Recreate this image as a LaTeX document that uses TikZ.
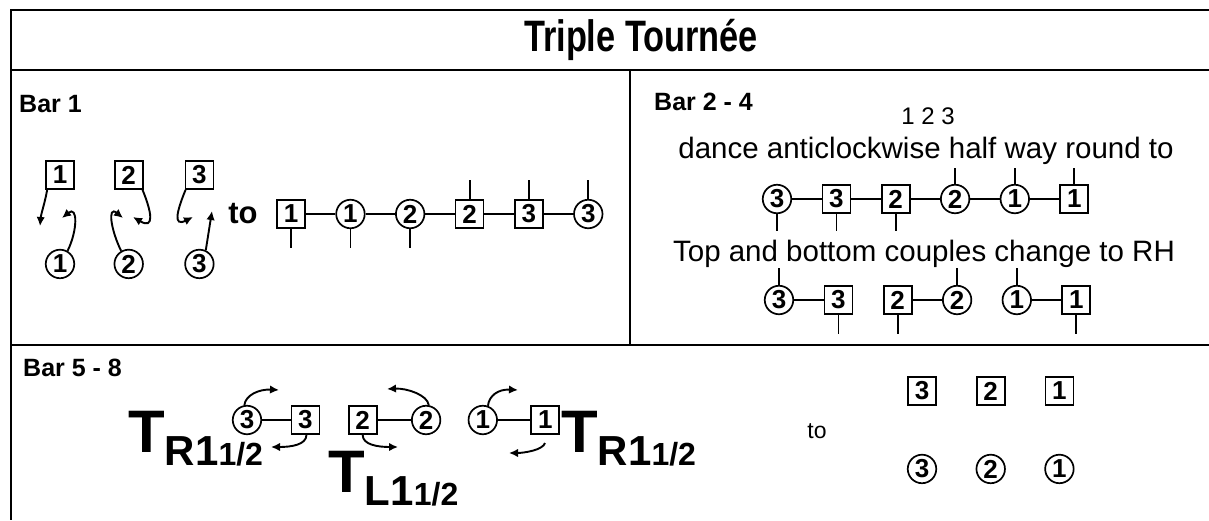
\documentclass[tikz,border=0pt]{standalone}
\usepackage{fontspec}
\setmainfont{Liberation Sans}
\newfontfamily\narrowfont[FakeStretch=0.78]{Liberation Sans}
\usetikzlibrary{arrows.meta,positioning}

\begin{document}
\begin{tikzpicture}
[x=1pt, y=-1pt, node distance=29.5pt,
% STYLES
rule/.style={line width=2.6pt},
divider/.style={line width=1.6pt},
bar/.style={anchor=west, inner sep=0pt, font=\bfseries\fontsize{25}{25}\selectfont},
words/.style={anchor=base, inner sep=0pt, font=\fontsize{29.5}{29.5}\selectfont},
man/.style={rectangle, draw, line width=1.7pt, minimum size=28pt, inner sep=0pt, font=\bfseries\fontsize{26}{26}\selectfont},
lady/.style={circle, draw, line width=1.7pt, minimum size=28.5pt, inner sep=0pt, font=\bfseries\fontsize{26}{26}\selectfont},
hand/.style={line width=1.9pt},
turn/.style={line width=1.9pt, -{Latex[length=9pt,width=8.5pt]}},
bigt/.style={anchor=base west, inner sep=0pt, font=\bfseries\fontsize{60}{60}\selectfont}]

\useasboundingbox (0,0) rectangle (1209,520);

% frame
\draw[rule] (1209,10) -- (11,10) -- (11,520);
\draw[rule] (11,70) -- (1209,70);
\draw[rule] (11,345) -- (1209,345);
\draw[divider] (630,70) -- (630,345);

\node[font=\narrowfont\bfseries\fontsize{44}{44}\selectfont] (title) at (641,40) {Triple Tournée};

% Bar 1
\node[bar] (bar1) at (19,104) {Bar 1};
\node[man] (bm1) at (60,175) {1};
\node[man, right=39pt of bm1] (bm2) {2};
\node[man, right=41pt of bm2] (bm3) {3};
\node[lady, below=59pt of bm1] (bw1) {1};
\node[lady, below=59pt of bm2] (bw2) {2};
\node[lady, below=59pt of bm3] (bw3) {3};

\coordinate (bt1) at (40,226);
\coordinate (bt2) at (62,218);
\coordinate (bt3) at (123,218);
\coordinate (bt4) at (133,217);
\coordinate (bt5) at (193,217);
\coordinate (bt6) at (212,211);

\draw[turn] ([xshift=2pt]bm1.south west) .. controls +(-2,12) and +(1,-12) .. (bt1);
\draw[turn] (bw1.60) .. controls +(10,-20) and +(16,-13) .. (bt2);
\draw[turn] (bw2.120) .. controls +(-10,-20) and +(-16,-13) .. (bt3);
\draw[turn] ([xshift=-1pt]bm2.south east) .. controls +(9,22) and +(22,13) .. (bt4);
\draw[turn] ([xshift=1pt]bm3.south west) .. controls +(-9,22) and +(-20,10) .. (bt5);
\draw[turn] (bw3.65) -- (bt6);

\node[font=\bfseries\fontsize{31}{31}\selectfont] (to1) at (243,214) {to};

\node[man] (am1) at (291,214) {1};
\node[lady, right=of am1] (aw1) {1};
\node[lady, right=of aw1] (aw2) {2};
\node[man, right=of aw2] (am2) {2};
\node[man, right=of am2] (am3) {3};
\node[lady, right=of am3] (aw3) {3};

\draw[hand] (am1) -- (aw1) -- (aw2) -- (am2) -- (am3) -- (aw3);
\foreach \n in {am1,aw1,aw2} \draw[hand] (\n.south) -- ++(0,19);
\foreach \n in {am2,am3,aw3} \draw[hand] (\n.north) -- ++(0,-19);

% Bar 2 - 4
\node[bar] (bar2) at (654,102) {Bar 2 - 4};
\node[anchor=base, inner sep=0pt, font=\fontsize{24}{24}\selectfont] (order) at (928,124) {1 2 3};
\node[words] (dance) at (926,158) {dance anticlockwise half way round to};

\node[lady] (uw3) at (777,199) {3};
\node[man, right=of uw3] (um3) {3};
\node[man, right=of um3] (um2) {2};
\node[lady, right=of um2] (uw2) {2};
\node[lady, right=of uw2] (uw1) {1};
\node[man, right=of uw1] (um1) {1};

\draw[hand] (uw3) -- (um3) -- (um2) -- (uw2) -- (uw1) -- (um1);
\foreach \n in {uw3,um3,um2} \draw[hand] (\n.south) -- ++(0,17);
\foreach \n in {uw2,uw1,um1} \draw[hand] (\n.north) -- ++(0,-16);

\node[words] (rh) at (924,261) {Top and bottom couples change to RH};

\node[lady] (lw3) at (779,300) {3};
\node[man, right=of lw3] (lm3) {3};
\node[man, right=of lm3] (lm2) {2};
\node[lady, right=of lm2] (lw2) {2};
\node[lady, right=of lw2] (lw1) {1};
\node[man, right=of lw1] (lm1) {1};

\draw[hand] (lw3) -- (lm3) (lm2) -- (lw2) (lw1) -- (lm1);
\foreach \n in {lw3,lw2,lw1} \draw[hand] (\n.north) -- ++(0,-17);
\foreach \n in {lm3,lm2,lm1} \draw[hand] (\n.south) -- ++(0,19);

%%%%%%%%%%%%%%%%

% Bar 5 - 8
\node[bar] (bar5) at (23,368) {Bar 5 - 8};

\node[lady] (cw3) at (247,420) {3};
\node[man, right=28.5pt of cw3] (cm3) {3};
\node[man, right=27.5pt of cm3] (cm2) {2};
\node[lady, right=33.5pt of cm2] (cw2) {2};
\node[lady, right=26.5pt of cw2] (cw1) {1};
\node[man, right=32.5pt of cw1] (cm1) {1};

\draw[hand] (cw3) -- (cm3) (cm2) -- (cw2) (cw1) -- (cm1);

\coordinate (ct3) at (279,390);
\coordinate (cb3) at (271,447);
\coordinate (cb2) at (398,447);
\coordinate (ct2) at (387,389);
\coordinate (ct1) at (518,390);
\coordinate (cs1) at (545,443);
\coordinate (cb1) at (509,453);

\draw[turn] (cw3.100) .. controls +(1,-10) and +(-20,-1) .. (ct3);
\draw[turn] ([xshift=1pt]cm3.south) .. controls +(0,10) and +(20,0) .. (cb3);
\draw[turn] (cm2.south) .. controls +(0,10) and +(-20,0) .. (cb2);
\draw[turn] (cw2.80) .. controls +(-1,-10) and +(20,-1) .. (ct2);
\draw[turn] (cw1.70) .. controls +(1,-10) and +(-20,-1) .. (ct1);
\draw[turn] (cs1) .. controls +(-2,7) and +(15,0) .. (cb1);

\node[bigt] (tr1) at (128,452) {T\raisebox{-13pt}{\fontsize{42}{42}\selectfont R1\fontsize{32}{32}\selectfont 1/2}};
\node[bigt] (tl) at (328,492) {T\raisebox{-13pt}{\fontsize{42}{42}\selectfont L1\fontsize{32}{32}\selectfont 1/2}};
\node[bigt] (tr2) at (561,452) {T\raisebox{-13pt}{\fontsize{42}{42}\selectfont R1\fontsize{32}{32}\selectfont 1/2}};

\node[font=\fontsize{23}{23}\selectfont] (to2) at (817,431) {to};

\node[man] (fm3) at (922,391) {3};
\node[man, right=39pt of fm3] (fm2) {2};
\node[man, right=39pt of fm2] (fm1) {1};
\node[lady, below=48pt of fm3] (fw3) {3};
\node[lady, below=48pt of fm2] (fw2) {2};
\node[lady, below=48pt of fm1] (fw1) {1};

\end{tikzpicture}
\end{document}
